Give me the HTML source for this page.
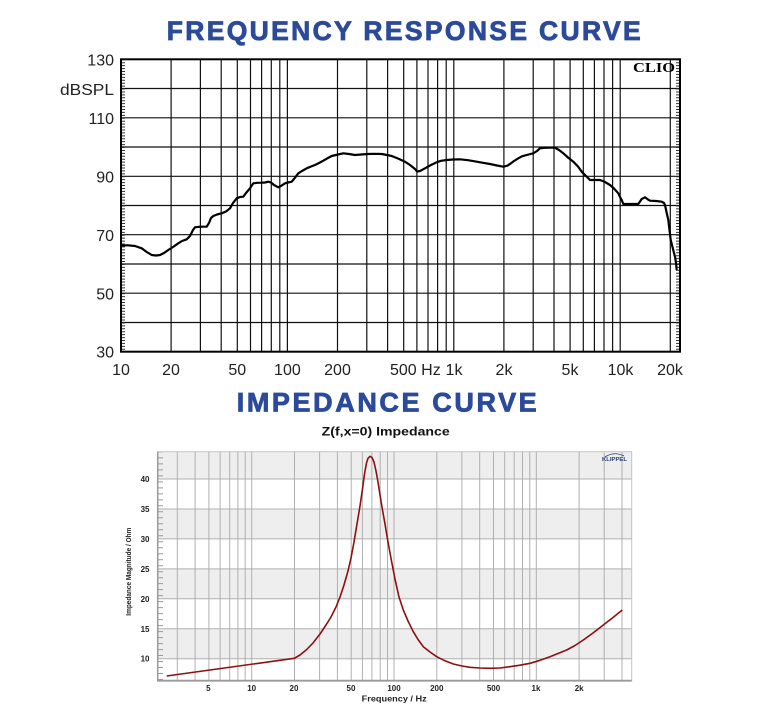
<!DOCTYPE html>
<html>
<head>
<meta charset="utf-8">
<style>
  html,body{margin:0;padding:0;background:#fff;}
  body{width:761px;height:714px;overflow:hidden;}
  svg{display:block;}
  .t{font-family:"Liberation Sans",Arial,sans-serif;}
</style>
</head>
<body>
<svg width="761" height="714" viewBox="0 0 761 714" xmlns="http://www.w3.org/2000/svg">
  <rect x="0" y="0" width="761" height="714" fill="#fff"/>

  <!-- Titles -->
  <text class="t" x="166.7" y="40" font-size="26.5" font-weight="bold" fill="#2c4a9a" stroke="#2c4a9a" stroke-width="0.8" textLength="474" lengthAdjust="spacing">FREQUENCY RESPONSE CURVE</text>
  <text class="t" x="236.7" y="411.7" font-size="27" font-weight="bold" fill="#2c4a9a" stroke="#2c4a9a" stroke-width="0.8" textLength="300" lengthAdjust="spacing">IMPEDANCE CURVE</text>

  <!-- ===== Frequency response chart ===== -->
  <g stroke="#111" stroke-width="1.2" fill="none">
    <line x1="121" y1="88.5" x2="680" y2="88.5"/>
    <line x1="121" y1="117.8" x2="680" y2="117.8"/>
    <line x1="121" y1="147.0" x2="680" y2="147.0"/>
    <line x1="121" y1="176.3" x2="680" y2="176.3"/>
    <line x1="121" y1="205.5" x2="680" y2="205.5"/>
    <line x1="121" y1="234.7" x2="680" y2="234.7"/>
    <line x1="121" y1="264.0" x2="680" y2="264.0"/>
    <line x1="121" y1="293.2" x2="680" y2="293.2"/>
    <line x1="121" y1="322.5" x2="680" y2="322.5"/>
    <line x1="171.1" y1="59.3" x2="171.1" y2="351.7"/>
    <line x1="200.4" y1="59.3" x2="200.4" y2="351.7"/>
    <line x1="221.2" y1="59.3" x2="221.2" y2="351.7"/>
    <line x1="237.3" y1="59.3" x2="237.3" y2="351.7"/>
    <line x1="250.5" y1="59.3" x2="250.5" y2="351.7"/>
    <line x1="261.6" y1="59.3" x2="261.6" y2="351.7"/>
    <line x1="271.3" y1="59.3" x2="271.3" y2="351.7"/>
    <line x1="279.8" y1="59.3" x2="279.8" y2="351.7"/>
    <line x1="287.4" y1="59.3" x2="287.4" y2="351.7"/>
    <line x1="337.5" y1="59.3" x2="337.5" y2="351.7"/>
    <line x1="366.8" y1="59.3" x2="366.8" y2="351.7"/>
    <line x1="387.6" y1="59.3" x2="387.6" y2="351.7"/>
    <line x1="403.7" y1="59.3" x2="403.7" y2="351.7"/>
    <line x1="416.9" y1="59.3" x2="416.9" y2="351.7"/>
    <line x1="428.0" y1="59.3" x2="428.0" y2="351.7"/>
    <line x1="437.6" y1="59.3" x2="437.6" y2="351.7"/>
    <line x1="446.2" y1="59.3" x2="446.2" y2="351.7"/>
    <line x1="453.8" y1="59.3" x2="453.8" y2="351.7"/>
    <line x1="503.9" y1="59.3" x2="503.9" y2="351.7"/>
    <line x1="533.2" y1="59.3" x2="533.2" y2="351.7"/>
    <line x1="554.0" y1="59.3" x2="554.0" y2="351.7"/>
    <line x1="570.1" y1="59.3" x2="570.1" y2="351.7"/>
    <line x1="583.3" y1="59.3" x2="583.3" y2="351.7"/>
    <line x1="594.4" y1="59.3" x2="594.4" y2="351.7"/>
    <line x1="604.0" y1="59.3" x2="604.0" y2="351.7"/>
    <line x1="612.6" y1="59.3" x2="612.6" y2="351.7"/>
    <line x1="620.2" y1="59.3" x2="620.2" y2="351.7"/>
    <line x1="670.3" y1="59.3" x2="670.3" y2="351.7"/>
  </g>
  <line x1="123.5" y1="59.3" x2="123.5" y2="351.7" stroke="#333" stroke-width="3" stroke-dasharray="1 1.924"/>
  <line x1="677.5" y1="59.3" x2="677.5" y2="351.7" stroke="#333" stroke-width="3" stroke-dasharray="1 1.924"/>
  <rect x="121" y="59.3" width="559" height="292.4" fill="none" stroke="#000" stroke-width="2"/>

  <text x="633" y="72" font-family="'Liberation Serif',serif" font-weight="bold" font-size="13.6" fill="#000" textLength="42" lengthAdjust="spacingAndGlyphs">CLIO</text>

  <polyline fill="none" stroke="#000" stroke-width="2.2" stroke-linejoin="round" points="121,245.5 128,245.3 135,246 141.7,248.3 146,251.5 151.7,255 156,255.5 160,255 164,253 168.3,250 173,247 178.3,243.3 182,241 186.7,239.3 190,236 193,230 195,227.3 200,226.7 206.7,226.7 209,223 211,218 213.3,216 217,214.5 221.7,213.3 226,211.5 230,208.3 233,203 236.7,198.3 240,197 243.3,196.7 246,193 250,188.3 253.3,183.3 257,182.8 261.7,182.7 265,182.5 268.3,181.7 271,182.5 274,185 278.3,187.3 281,186 285,183.3 288,182.5 291.7,181.7 294,179 298.3,173.3 302,171 306.7,168.3 311,166.5 315,165 319,163 323.3,160.7 327,158.5 331.7,156 336,155 343.3,153.3 349,154 355,155 361,154.5 368.3,154 375,153.8 381.7,154 387,155 391.7,156 398,158.5 405,161.7 410,165 415,169 417,171.5 420,171 425,168.3 431,165 436.7,162.3 441,160.8 446.7,160 453,159.5 460,159.3 468,160.2 476.7,161.7 483,162.8 490,164 497,165.5 503.3,166.7 507,165.8 510,164 514,161 518.3,158.3 522,156.3 526.7,155 533.3,153.3 537,151 540,148.3 545,147.8 550,147.7 555,147.7 559,150 563.3,153.3 568,157.5 573.3,161.7 578,166.5 581.7,171.7 586,176 590,180 595,180 600,180 605,182 610,185 614,188.5 618.3,193.3 620.5,198 621.7,200 623.3,204 630,204 638.3,204 640,201.5 641.7,199 645,197.3 648,199.5 650,200.7 656,201 661.7,201.7 664,203 665,205 666.5,212 668.3,220 669.5,230 670.7,240 672,245 673.5,251 675,256.7 676,263 676.7,270"/>

  <g class="t" font-size="16" fill="#222" text-anchor="end">
    <text x="114" y="65.5">130</text>
    <text x="114" y="124">110</text>
    <text x="114" y="182.5">90</text>
    <text x="114" y="241">70</text>
    <text x="114" y="299.5">50</text>
    <text x="114" y="357.5">30</text>
  </g>
  <text class="t" x="60" y="95" font-size="16" fill="#222" textLength="54" lengthAdjust="spacingAndGlyphs">dBSPL</text>
  <g class="t" font-size="16" fill="#222" text-anchor="middle">
    <text x="121" y="375">10</text>
    <text x="171" y="375">20</text>
    <text x="237.3" y="375">50</text>
    <text x="287.4" y="375">100</text>
    <text x="337.5" y="375">200</text>
    <text x="454" y="375">1k</text>
    <text x="504" y="375">2k</text>
    <text x="570" y="375">5k</text>
    <text x="620.5" y="375">10k</text>
    <text x="670" y="375">20k</text>
  </g>
  <text class="t" x="390" y="375" font-size="16" fill="#222">500 Hz</text>

  <!-- ===== Impedance chart ===== -->
  <text class="t" x="321.7" y="435.7" font-size="11.5" font-weight="bold" fill="#111" textLength="128" lengthAdjust="spacingAndGlyphs">Z(f,x=0) Impedance</text>

  <rect x="157.7" y="451.7" width="474" height="229" fill="#fff"/>
  <g fill="#eeeeee">
    <rect x="157.7" y="451.7" width="474" height="27.3"/>
    <rect x="157.7" y="509.0" width="474" height="30"/>
    <rect x="157.7" y="568.9" width="474" height="30"/>
    <rect x="157.7" y="628.8" width="474" height="30"/>
  </g>
  <g stroke="#b0b0b0" stroke-width="1" fill="none">
    <line x1="157.7" y1="479.0" x2="631.7" y2="479.0"/>
    <line x1="157.7" y1="509.0" x2="631.7" y2="509.0"/>
    <line x1="157.7" y1="538.9" x2="631.7" y2="538.9"/>
    <line x1="157.7" y1="568.9" x2="631.7" y2="568.9"/>
    <line x1="157.7" y1="598.8" x2="631.7" y2="598.8"/>
    <line x1="157.7" y1="628.8" x2="631.7" y2="628.8"/>
    <line x1="157.7" y1="658.7" x2="631.7" y2="658.7"/>
    <line x1="177.3" y1="451.7" x2="177.3" y2="680.7"/>
    <line x1="195.1" y1="451.7" x2="195.1" y2="680.7"/>
    <line x1="208.9" y1="451.7" x2="208.9" y2="680.7"/>
    <line x1="220.1" y1="451.7" x2="220.1" y2="680.7"/>
    <line x1="229.7" y1="451.7" x2="229.7" y2="680.7"/>
    <line x1="237.9" y1="451.7" x2="237.9" y2="680.7"/>
    <line x1="245.2" y1="451.7" x2="245.2" y2="680.7"/>
    <line x1="251.7" y1="451.7" x2="251.7" y2="680.7"/>
    <line x1="294.5" y1="451.7" x2="294.5" y2="680.7"/>
    <line x1="319.6" y1="451.7" x2="319.6" y2="680.7"/>
    <line x1="337.4" y1="451.7" x2="337.4" y2="680.7"/>
    <line x1="351.2" y1="451.7" x2="351.2" y2="680.7"/>
    <line x1="362.4" y1="451.7" x2="362.4" y2="680.7"/>
    <line x1="371.9" y1="451.7" x2="371.9" y2="680.7"/>
    <line x1="380.2" y1="451.7" x2="380.2" y2="680.7"/>
    <line x1="387.5" y1="451.7" x2="387.5" y2="680.7"/>
    <line x1="394.0" y1="451.7" x2="394.0" y2="680.7"/>
    <line x1="436.8" y1="451.7" x2="436.8" y2="680.7"/>
    <line x1="461.9" y1="451.7" x2="461.9" y2="680.7"/>
    <line x1="479.7" y1="451.7" x2="479.7" y2="680.7"/>
    <line x1="493.5" y1="451.7" x2="493.5" y2="680.7"/>
    <line x1="504.7" y1="451.7" x2="504.7" y2="680.7"/>
    <line x1="514.2" y1="451.7" x2="514.2" y2="680.7"/>
    <line x1="522.5" y1="451.7" x2="522.5" y2="680.7"/>
    <line x1="529.8" y1="451.7" x2="529.8" y2="680.7"/>
    <line x1="536.3" y1="451.7" x2="536.3" y2="680.7"/>
    <line x1="579.1" y1="451.7" x2="579.1" y2="680.7"/>
    <line x1="604.2" y1="451.7" x2="604.2" y2="680.7"/>
    <line x1="622.0" y1="451.7" x2="622.0" y2="680.7"/>
  </g>
  <line x1="160.5" y1="451.7" x2="160.5" y2="680.7" stroke="#999" stroke-width="5" stroke-dasharray="1 4.99" stroke-dashoffset="0.3"/>
  <rect x="157.7" y="451.7" width="474" height="229" fill="none" stroke="#c4c4c4" stroke-width="1"/>
  <line x1="157.7" y1="451.7" x2="157.7" y2="681" stroke="#9a9a9a" stroke-width="1.5"/>
  <line x1="157" y1="680.7" x2="631.7" y2="680.7" stroke="#9a9a9a" stroke-width="1.8"/>

  <path d="M605,457 Q614,451 624,456" fill="none" stroke="#2a3f7a" stroke-width="0.8"/>
  <text class="t" x="602" y="461" font-size="5.5" font-weight="bold" fill="#2a3f7a" textLength="25" lengthAdjust="spacingAndGlyphs">KLIPPEL</text>

  <polyline fill="none" stroke="#8b1010" stroke-width="1.6" stroke-linejoin="round" points="166.7,676 294.3,658.3 300,655 306.7,649.5 313,643 320,634 326,625 331,617 336,607 340,597 344,585 348,571 351,558 354,542 357,524 360,506 362.5,489 364.5,474 366.5,463 368,458.3 370,456.3 372,457.5 374,462 376,471 378,482 380,495 382.5,510 385,524 388,542 391.7,562 395,579 399,597 403.3,610 408,621 413.3,631.7 418,639.5 423.3,646.7 430,652 436.7,656.7 445,660.8 453.3,664 462,666 470,667.3 480,668 490,668.3 500,668 510,666.7 520,665.2 530,663.3 540,660.3 550,656.7 558,653.5 566.7,650 575,645.5 583.3,640 593,633 603.3,625 613,617.5 622.3,610"/>

  <g class="t" font-size="8" font-weight="bold" fill="#222" text-anchor="end">
    <text x="149.5" y="482">40</text>
    <text x="149.5" y="512">35</text>
    <text x="149.5" y="542">30</text>
    <text x="149.5" y="572">25</text>
    <text x="149.5" y="601.8">20</text>
    <text x="149.5" y="631.8">15</text>
    <text x="149.5" y="661.7">10</text>
  </g>
  <g class="t" font-size="8" font-weight="bold" fill="#222" text-anchor="middle">
    <text x="208.3" y="691">5</text>
    <text x="251.7" y="691">10</text>
    <text x="294" y="691">20</text>
    <text x="351" y="691">50</text>
    <text x="394" y="691">100</text>
    <text x="436.8" y="691">200</text>
    <text x="493.5" y="691">500</text>
    <text x="536" y="691">1k</text>
    <text x="579.2" y="691">2k</text>
  </g>
  <text class="t" x="361.7" y="701.5" font-size="8" font-weight="bold" fill="#222" textLength="65" lengthAdjust="spacingAndGlyphs">Frequency / Hz</text>
  <text class="t" transform="translate(131,615.7) rotate(-90)" x="0" y="0" font-size="7.5" font-weight="bold" fill="#222" textLength="88" lengthAdjust="spacingAndGlyphs">Impedance Magnitude / Ohm</text>
</svg>
</body>
</html>
